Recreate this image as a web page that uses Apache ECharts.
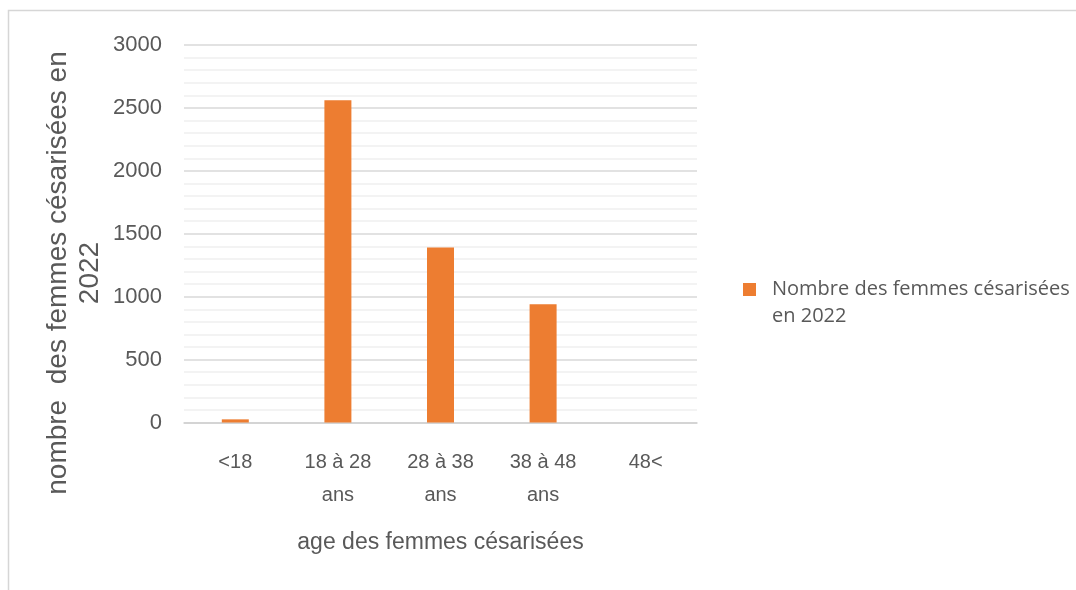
<!DOCTYPE html>
<html>
<head>
<meta charset="utf-8">
<style>
  html, body { margin: 0; padding: 0; background: #ffffff; }
  #chart { width: 1076px; height: 590px; }
</style>
<script src="https://cdn.jsdelivr.net/npm/echarts@6/dist/echarts.min.js"></script>
</head>
<body>
<div id="chart"></div>
<script>
// Age groups and number of caesarean deliveries in 2022
const categories = ['<18', '18 à 28\nans', '28 à 38\nans', '38 à 48\nans', '48<'];
const cesareans = [25, 2560, 1390, 940, 0];
const seriesName = 'Nombre des femmes césarisées en 2022';
const yTicks = { min: 0, max: 3000, step: 500 };
const xTitle = 'age des femmes césarisées';
const yTitle = 'nombre  des femmes césarisées en\n2022';

const sans = "'Liberation Sans', Arial, sans-serif";
const grey = '#595959';
const barColor = '#ED7D31';

// Legend marker: a square sitting at the height of the first text line
const markerSvg = "<svg xmlns='http://www.w3.org/2000/svg' width='13' height='54' viewBox='0 0 13 54'>" +
  "<rect x='0' y='7' width='13' height='13' fill='" + barColor + "'/></svg>";
const markerIcon = 'image://data:image/svg+xml;charset=utf-8,' + encodeURIComponent(markerSvg);

const chart = echarts.init(document.getElementById('chart'), null, { renderer: 'canvas' });

chart.setOption({
  animation: false,
  backgroundColor: '#ffffff',
  grid: { left: 184, right: 379, top: 45, bottom: 167.5, containLabel: false },
  legend: {
    show: true,
    left: 738,
    top: 271,
    orient: 'vertical',
    icon: markerIcon,
    itemWidth: 13,
    itemHeight: 54,
    formatter: function () { return 'Nombre des femmes césarisées\nen 2022'; },
    textStyle: {
      fontFamily: "'Open Sans', sans-serif",
      fontSize: 20,
      color: grey,
      lineHeight: 27,
      padding: [0, 0, 0, 11]
    }
  },
  xAxis: {
    type: 'category',
    data: categories,
    name: xTitle,
    nameLocation: 'middle',
    nameGap: 109,
    nameTextStyle: { fontFamily: sans, fontSize: 23, color: grey },
    axisLine: { show: true, lineStyle: { color: '#d0d0d0', width: 1.5 } },
    axisTick: { show: false },
    axisLabel: {
      fontFamily: sans,
      fontSize: 20,
      color: grey,
      lineHeight: 33,
      margin: 23,
      interval: 0
    }
  },
  yAxis: {
    type: 'value',
    min: yTicks.min,
    max: yTicks.max,
    interval: yTicks.step,
    axisLine: { show: false },
    axisTick: { show: false },
    axisLabel: {
      fontFamily: sans,
      fontSize: 22,
      color: grey,
      margin: 22,
      formatter: function (v) { return String(v); }
    },
    splitLine: { show: true, lineStyle: { color: '#d9d9d9', width: 1.5 } },
    minorTick: { show: false, splitNumber: 5 },
    minorSplitLine: { show: true, lineStyle: { color: '#efefef', width: 1.5 } }
  },
  series: [{
    name: seriesName,
    type: 'bar',
    data: cesareans,
    barWidth: 27,
    itemStyle: { color: barColor }
  }],
  graphic: [
    {
      type: 'rect',
      silent: true,
      shape: { x: 8.5, y: 10.5, width: 1200, height: 700 },
      style: { fill: null, stroke: '#d6d6d6', lineWidth: 1.5 }
    },
    {
      type: 'text',
      silent: true,
      x: 74,
      y: 273,
      rotation: Math.PI / 2,
      style: {
        text: yTitle,
        fontFamily: sans,
        fontSize: 28,
        fill: grey,
        align: 'center',
        verticalAlign: 'middle',
        lineHeight: 32
      }
    }
  ]
});
</script>
</body>
</html>
